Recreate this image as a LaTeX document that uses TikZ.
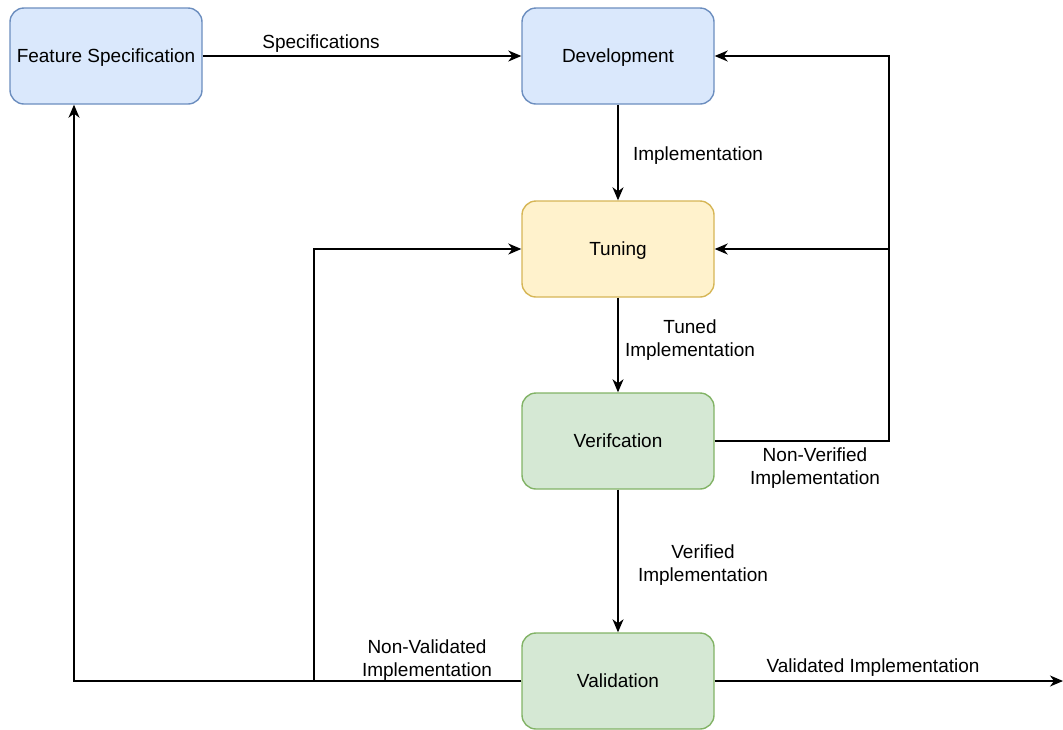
\documentclass[tikz,border=0pt]{standalone}
\usepackage{fontspec}
\setmainfont{Liberation Sans}
\usetikzlibrary{arrows.meta}
\definecolor{bluefill}{HTML}{DAE8FC}
\definecolor{blueline}{HTML}{6C8EBF}
\definecolor{yellowfill}{HTML}{FFF2CC}
\definecolor{yellowline}{HTML}{D6B656}
\definecolor{greenfill}{HTML}{D5E8D4}
\definecolor{greenline}{HTML}{82B366}
\begin{document}
\begin{tikzpicture}[x=1pt,y=-1pt,
  every node/.style={font=\fontsize{19}{22.5}\selectfont, inner sep=0pt},
  stage/.style={rounded corners=14pt, line width=1.4pt, minimum width=192pt, minimum height=96pt,
                text height=13.7pt, text depth=0pt},
  bluebox/.style={stage, fill=bluefill, draw=blueline},
  yellowbox/.style={stage, fill=yellowfill, draw=yellowline},
  greenbox/.style={stage, fill=greenfill, draw=greenline},
  flow/.style={line width=1.5pt, -{Stealth[length=13pt,width=11pt,inset=4pt]}},
  lbl/.style={align=center, yshift=-3pt}]
\useasboundingbox (0,0) rectangle (1063,729);

% stages
\node[bluebox]   (fs)  at (106,56)  {Feature Specification};
\node[bluebox]   (dev) at (618,56)  {Development};
\node[yellowbox] (tun) at (618,249) {Tuning};
\node[greenbox]  (ver) at (618,441) {Verifcation};
\node[greenbox]  (val) at (618,681) {Validation};

% routing points
\coordinate (rv)  at (889,441);
\coordinate (rb)  at (889,249);
\coordinate (lb)  at (74,681);
\coordinate (lm)  at (314,681);
\coordinate (out) at (1063,681);

% main flow
\draw[flow] (fs.east) -- (dev.west);
\draw[flow] (dev.south) -- (tun.north);
\draw[flow] (tun.south) -- (ver.north);
\draw[flow] (ver.south) -- (val.north);
\draw[flow] (val.east) -- (out);

% failed verification goes back
\draw[flow] (ver.east) -- (rv) |- (dev.east);
\draw[flow] (rb) -- (tun.east);

% failed validation goes back
\draw[flow] (val.west) -- (lb) -- (lb |- fs.south);
\draw[flow] (lm) |- (tun.west);

% labels
\node[lbl] (l1) at (321,41)  {Specifications};
\node[lbl] (l2) at (698,153) {Implementation};
\node[lbl] (l3) at (690,337) {Tuned\\Implementation};
\node[lbl] (l4) at (815,465) {Non-Verified\\Implementation};
\node[lbl] (l5) at (703,562) {Verified\\Implementation};
\node[lbl] (l6) at (427,657) {Non-Validated\\Implementation};
\node[lbl] (l7) at (873,665) {Validated Implementation};
\end{tikzpicture}
\end{document}
